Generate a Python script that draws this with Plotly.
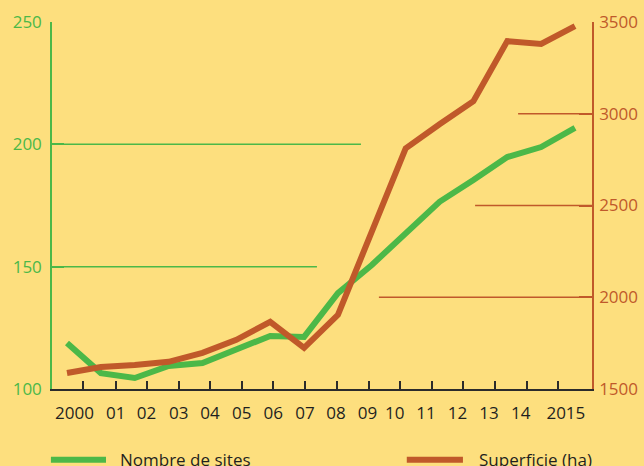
import plotly.graph_objects as go

years = list(range(2000, 2016))
nombre_sites = [118.8, 106.5, 104.5, 109.4, 110.6, 116.0, 121.7, 121.3, 139.2, 150.7,
                163.8, 176.5, 185.4, 194.8, 198.9, 206.7]
superficie = [1587, 1620, 1631, 1648, 1697, 1768, 1866, 1724, 1904, 2358,
              2811, 2943, 3068, 3396, 3380, 3478]
tick_labels = ["2000", "01", "02", "03", "04", "05", "06", "07", "08", "09",
               "10", "11", "12", "13", "14", "2015"]
left_ticks = [100, 150, 200, 250]
right_ticks = [1500, 2000, 2500, 3000, 3500]

# layout positions (in year units) for labels and tick marks
label_pos = [2000.22, 2001.44, 2002.35, 2003.30, 2004.22, 2005.16, 2006.09, 2007.03,
             2007.94, 2008.87, 2009.68, 2010.60, 2011.53, 2012.46, 2013.40, 2014.73]
tickmark_pos = [2000.48, 2001.44, 2002.35, 2003.30, 2004.22, 2005.16, 2006.09, 2007.03,
                2007.96, 2008.91, 2009.83, 2010.77, 2011.69, 2012.64, 2013.58, 2014.51]

GREEN = "#4cb848"
ORANGE = "#c0592a"
BG = "#fddf7e"
DARK = "#2b2b2b"
FONT = "Open Sans"
XR = [1999.557, 2015.502]

fig = go.Figure()
fig.add_trace(go.Scatter(x=years, y=nombre_sites, mode="lines", name="Nombre de sites",
                         line=dict(color=GREEN, width=6), yaxis="y", xaxis="x"))
fig.add_trace(go.Scatter(x=years, y=superficie, mode="lines", name="Superficie (ha)",
                         line=dict(color=ORANGE, width=6), yaxis="y2", xaxis="x"))

shapes = []
# partial gridlines, green (left axis)
for val, xend in [(200, 2008.68), (150, 2007.38)]:
    shapes.append(dict(type="line", xref="x", yref="y", x0=XR[0], x1=xend, y0=val, y1=val,
                       line=dict(color=GREEN, width=1.5), layer="below"))
# partial gridlines, orange (right axis)
for val, xstart in [(3000, 2013.32), (2500, 2012.05), (2000, 2009.21)]:
    shapes.append(dict(type="line", xref="x", yref="y2", x0=xstart, x1=XR[1], y0=val, y1=val,
                       line=dict(color=ORANGE, width=1.5), layer="below"))
# legend symbols
shapes.append(dict(type="line", xref="paper", yref="paper", x0=-0.002, x1=0.1, y0=-0.193, y1=-0.193,
                   line=dict(color=GREEN, width=6)))
shapes.append(dict(type="line", xref="paper", yref="paper", x0=0.657, x1=0.761, y0=-0.193, y1=-0.193,
                   line=dict(color=ORANGE, width=6)))

annotations = [
    dict(text="Nombre de sites", xref="paper", yref="paper", x=0.122, y=-0.193, xanchor="left",
         yanchor="middle", showarrow=False, font=dict(family=FONT, size=17, color="#1f1f1f")),
    dict(text="Superficie (ha)", xref="paper", yref="paper", x=0.787, y=-0.193, xanchor="left",
         yanchor="middle", showarrow=False, font=dict(family=FONT, size=17, color="#1f1f1f")),
]

fig.update_layout(
    width=644, height=466,
    margin=dict(l=52, r=52, t=22, b=77, autoexpand=False),
    paper_bgcolor=BG, plot_bgcolor=BG,
    showlegend=False,
    font=dict(family=FONT),
    shapes=shapes,
    annotations=annotations,
    xaxis=dict(range=XR, tickmode="array", tickvals=label_pos, ticktext=tick_labels,
               ticks="", showgrid=False, zeroline=False, showline=True, automargin=False,
               linecolor=DARK, linewidth=2,
               tickfont=dict(family=FONT, size=17, color="#1f1f1f"),
               ticklabelstandoff=8),
    xaxis2=dict(range=XR, overlaying="x", anchor="y", side="bottom", tickmode="array",
                tickvals=tickmark_pos, showticklabels=False, ticks="inside", ticklen=8,
                tickwidth=1.5, tickcolor=DARK, showgrid=False, zeroline=False, showline=False,
                automargin=False),
    yaxis=dict(range=[100, 250], tickmode="array", tickvals=left_ticks, ticks="inside",
               ticklen=12, tickwidth=1.5, tickcolor=GREEN, showgrid=False, zeroline=False,
               showline=True, linecolor=GREEN, linewidth=1.5, automargin=False,
               tickfont=dict(family=FONT, size=17, color=GREEN), ticklabelstandoff=5),
    yaxis2=dict(range=[1500, 3500], overlaying="y", side="right", anchor="x", tickmode="array",
                tickvals=right_ticks, ticks="inside", ticklen=13, tickwidth=1.5,
                tickcolor=ORANGE, showgrid=False, zeroline=False, showline=True,
                linecolor=ORANGE, linewidth=1.5, automargin=False,
                tickfont=dict(family=FONT, size=17, color=ORANGE), ticklabelstandoff=2),
)
# invisible trace to activate xaxis2 tick marks
fig.add_trace(go.Scatter(x=[XR[0]], y=[100], xaxis="x2", yaxis="y", mode="markers",
                         marker=dict(opacity=0), hoverinfo="skip", showlegend=False))

fig.write_html("out.html", config={"displayModeBar": False},
               post_script="document.body.style.margin='0';document.body.style.padding='0';document.body.style.overflow='hidden';")
